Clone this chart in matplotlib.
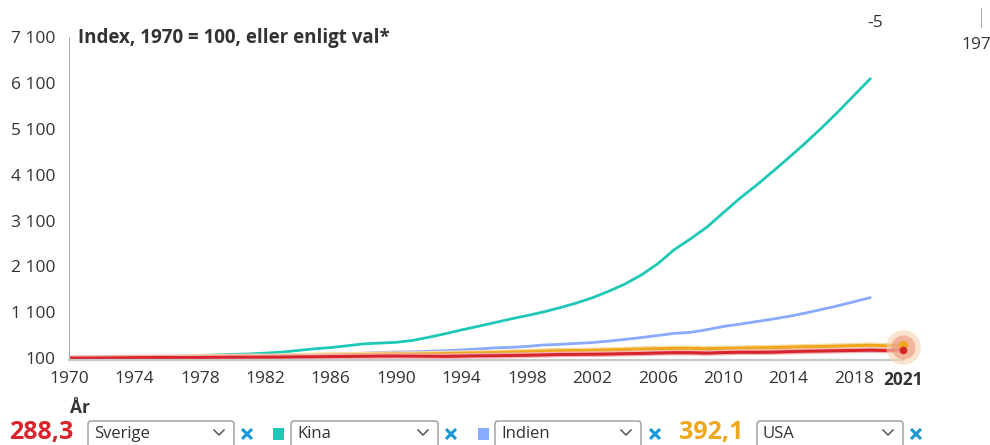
import numpy as np
import matplotlib
matplotlib.use('Agg')
import matplotlib.pyplot as plt
from matplotlib.patches import FancyBboxPatch, Rectangle

plt.rcParams['font.family'] = ['Open Sans', 'DejaVu Sans']

## Data (index, 1970 = 100)
years_long = np.arange(1970, 2022)
years_short = np.arange(1970, 2020)

sverige = [100, 101, 103, 107, 111, 113, 114, 112, 114, 118,
           120, 120, 121, 123, 128, 130, 134, 138, 141, 145,
           146, 144, 142, 139, 145, 151, 153, 158, 164, 171,
           180, 182, 186, 190, 198, 203, 213, 220, 219, 210,
           222, 229, 228, 231, 241, 251, 256, 262, 268, 274,
           267, 288.3]

usa = [100, 103, 109, 115, 114, 114, 120, 126, 133, 137,
       137, 140, 138, 143, 154, 160, 166, 172, 179, 186,
       190, 189, 196, 201, 209, 215, 222, 232, 243, 254,
       265, 267, 272, 279, 290, 299, 307, 313, 314, 306,
       314, 318, 325, 331, 339, 349, 355, 363, 373, 381,
       370, 392.1]

kina = [100, 107, 111, 120, 123, 133, 131, 141, 158, 170,
        183, 192, 210, 232, 268, 304, 331, 370, 411, 428,
        445, 486, 555, 632, 715, 793, 872, 953, 1028, 1106,
        1199, 1298, 1416, 1558, 1716, 1914, 2157, 2462, 2699, 2953,
        3267, 3578, 3858, 4158, 4465, 4780, 5110, 5460, 5825, 6190]

indien = [100, 102, 101, 105, 107, 116, 118, 127, 134, 127,
          136, 144, 149, 160, 166, 175, 183, 190, 209, 222,
          235, 237, 250, 262, 280, 300, 323, 336, 356, 387,
          400, 421, 440, 472, 509, 549, 594, 640, 662, 720,
          790, 840, 895, 950, 1010, 1080, 1160, 1240, 1330, 1420]

xticks = [1970, 1974, 1978, 1982, 1986, 1990, 1994, 1998, 2002,
          2006, 2010, 2014, 2018, 2021]
yticks = [100, 1100, 2100, 3100, 4100, 5100, 6100, 7100]

## Colours
c_kina = '#1ec8b6'
c_indien = '#88aaff'
c_usa = '#efa720'
c_sverige = '#d8252b'
c_text = '#333333'
c_x = '#1a98d5'

W, H = 990, 445
fig = plt.figure(figsize=(W / 100, H / 100), dpi=100)

## Main chart
ax = fig.add_axes([69 / W, 1 - 360 / H, (903 - 69) / W, (360 - 37) / H])
ax.plot(years_short, kina, color=c_kina, lw=2.0, solid_capstyle='round')
ax.plot(years_short, indien, color=c_indien, lw=2.0, solid_capstyle='round')
ax.plot(years_long, usa, color='#f7dca6', lw=4.0, solid_capstyle='round')
ax.plot(years_long, usa, color=c_usa, lw=2.2, solid_capstyle='round')
ax.plot(years_long, sverige, color='#f3b3b5', lw=4.0, solid_capstyle='round')
ax.plot(years_long, sverige, color=c_sverige, lw=2.2, solid_capstyle='round')

## highlight at the last year
mid = (usa[-1] + sverige[-1]) / 2
ax.scatter([2021], [mid], s=620, color='#f7d2b0', alpha=0.6, lw=0, clip_on=False, zorder=5)
ax.scatter([2021], [mid], s=300, color='#ee9478', alpha=0.6, lw=0, clip_on=False, zorder=6)
ax.scatter([2021], [usa[-1]], s=45, color=c_usa, lw=0, clip_on=False, zorder=7)
ax.scatter([2021], [sverige[-1]], s=30, color=c_sverige, lw=0, clip_on=False, zorder=8)

ax.set_xlim(1970, 2021)
ax.set_ylim(60, 7100)
ax.set_xticks(xticks)
ax.set_xticklabels([str(y) for y in xticks])
ax.get_xticklabels()[-1].set_fontweight('bold')
ax.set_yticks(yticks)
ax.set_yticklabels(['{:,}'.format(v).replace(',', ' ') for v in yticks])
ax.tick_params(axis='both', length=0, labelsize=12.5, colors=c_text)
ax.tick_params(axis='x', pad=8)
ax.tick_params(axis='y', pad=10)
for s in ['top', 'right']:
    ax.spines[s].set_visible(False)
ax.spines['left'].set_color('#b0b0b0')
ax.spines['left'].set_linewidth(0.8)
ax.spines['bottom'].set_color('#c8c8c8')
ax.spines['bottom'].set_linewidth(1.6)

## Overlay in pixel coordinates for the texts and controls
ov = fig.add_axes([0, 0, 1, 1], zorder=10)
ov.set_xlim(0, W)
ov.set_ylim(H, 0)
ov.axis('off')
ov.patch.set_alpha(0)

ov.text(78, 38, 'Index, 1970 = 100, eller enligt val*', fontsize=13.5,
        fontweight='bold', color=c_text, va='center', ha='left')

# pieces of a neighbouring chart at the top right, cut by the edge
ov.text(867, 23, '-5', fontsize=12.5, color=c_text, va='center', ha='left')
ov.text(961, 45, '1970', fontsize=12.5, color=c_text, va='center', ha='left')
ov.plot([981, 981], [8, 27], color='#b0b0b0', lw=0.8)

ov.text(70, 408, 'År', fontsize=12.5, fontweight='bold', color=c_text, va='center', ha='left')


def dropdown(x0, x1, label):
    box = FancyBboxPatch((x0, 421), x1 - x0, 27, boxstyle='round,pad=0,rounding_size=3',
                         fc='white', ec='#9a9a9a', lw=1.0)
    ov.add_patch(box)
    ov.text(x0 + 6, 434, label, fontsize=12, color=c_text, va='center', ha='left')
    cx = x1 - 15
    ov.plot([cx - 5, cx, cx + 5], [430, 435, 430], color='#555555', lw=1.1)


def cross(cx, cy=434, r=5):
    ov.plot([cx - r, cx + r], [cy - r, cy + r], color=c_x, lw=2.2, solid_capstyle='butt')
    ov.plot([cx - r, cx + r], [cy + r, cy - r], color=c_x, lw=2.2, solid_capstyle='butt')


ov.text(9, 433, '288,3', fontsize=18, fontweight='bold', color=c_sverige, va='center', ha='left')
dropdown(88, 234, 'Sverige')
cross(247)

ov.add_patch(Rectangle((273, 428), 11, 12, color=c_kina, lw=0))
dropdown(291, 438, 'Kina')
cross(451)

ov.add_patch(Rectangle((478, 428), 11, 12, color=c_indien, lw=0))
dropdown(495, 641, 'Indien')
cross(655)

ov.text(679, 433, '392,1', fontsize=18, fontweight='bold', color=c_usa, va='center', ha='left')
dropdown(757, 903, 'USA')
cross(916)

fig.savefig('out.png', dpi=100)
